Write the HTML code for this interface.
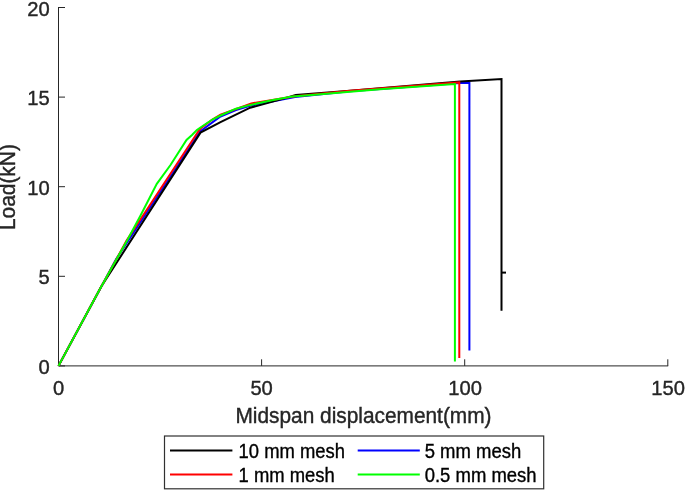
<!DOCTYPE html>
<html lang="en"><head><meta charset="utf-8"><title>Load vs midspan displacement</title>
<style>html,body{margin:0;padding:0;background:#fff}body{width:685px;height:491px;overflow:hidden}</style></head>
<body>
<svg width="685" height="491" viewBox="0 0 685 491" style="display:block;font-family:'Liberation Sans',Arial,Helvetica,sans-serif" fill="#262626">
<rect width="685" height="491" fill="#fff"/>
<g stroke="#262626" stroke-width="1" fill="none">
<path d="M58.5,7V365.9H668.2"/>
<path d="M58.5,365.9H65"/>
<path d="M58.5,276.3H65"/>
<path d="M58.5,186.7H65"/>
<path d="M58.5,97.1H65"/>
<path d="M58.5,7.5H65"/>
<path d="M58.5,365.9V359.3"/>
<path d="M261.6,365.9V359.3"/>
<path d="M464.7,365.9V359.3"/>
<path d="M667.8,365.9V359.3"/>
</g>
<g font-size="20.7" stroke="#262626" stroke-width="0.4">
<text transform="translate(49.8,373.8) scale(0.975,1)" text-anchor="end">0</text>
<text transform="translate(49.8,284.2) scale(0.975,1)" text-anchor="end">5</text>
<text transform="translate(49.8,194.6) scale(0.975,1)" text-anchor="end">10</text>
<text transform="translate(49.8,105.0) scale(0.975,1)" text-anchor="end">15</text>
<text transform="translate(49.8,15.9) scale(0.975,1)" text-anchor="end">20</text>
<text transform="translate(58.5,395.3) scale(0.975,1)" text-anchor="middle">0</text>
<text transform="translate(261.6,395.3) scale(0.975,1)" text-anchor="middle">50</text>
<text transform="translate(465.1,395.3) scale(0.975,1)" text-anchor="middle">100</text>
<text transform="translate(668.2,395.3) scale(0.975,1)" text-anchor="middle">150</text>
</g>
<text transform="translate(363.5,422.7) scale(0.966,1)" text-anchor="middle" font-size="21.6" stroke="#262626" stroke-width="0.4">Midspan displacement(mm)</text>
<text transform="translate(15.3,187.1) rotate(-90) scale(0.968,1)" text-anchor="middle" font-size="21.6" stroke="#262626" stroke-width="0.4">Load(kN)</text>
<polyline fill="none" stroke="#0000ff" stroke-width="2" stroke-linejoin="miter" points="58.5,365.9 116.2,259.0 200.1,131.4 220.5,116.5 236.0,110.0 250.0,105.8 295.0,97.0 350.0,91.2 460.0,83.0 469.4,83.0 469.4,350.5"/>
<polyline fill="none" stroke="#000" stroke-width="2" stroke-linejoin="miter" points="58.5,365.9 101.3,286.5 200.5,132.6 220.5,122.2 250.2,107.7 282.6,98.9 295.7,94.9 350.0,90.8 460.2,81.4 501.5,79.0 501.5,310.7"/>
<path d="M501.5,272.6H506" stroke="#000" stroke-width="2"/>
<polyline fill="none" stroke="#ff0000" stroke-width="2" stroke-linejoin="miter" points="58.5,365.9 99.4,290.0 116.0,260.0 126.6,240.5 198.5,131.0 201.5,127.6 212.4,119.5 220.5,114.7 251.3,103.4 295.0,96.2 350.0,90.7 459.3,82.4 459.3,358.1"/>
<polyline fill="none" stroke="#00ff00" stroke-width="2" stroke-linejoin="miter" points="58.5,365.9 99.4,290.0 116.1,260.0 127.4,240.0 140.8,215.0 156.8,183.8 170.5,165.0 186.5,140.0 192.0,135.0 196.9,130.1 200.1,127.7 212.4,119.5 220.5,115.5 236.0,108.7 250.3,104.9 271.8,100.3 292.2,96.5 306.0,95.5 350.0,91.8 380.0,89.2 454.9,84.0 454.9,361.5"/>
<rect x="164.5" y="436" width="379.2" height="52.8" fill="#fff" stroke="#303030" stroke-width="1.2"/>
<g stroke-width="2">
<path d="M170,450.6H232.4" stroke="#000"/>
<path d="M170,474.5H232.4" stroke="#ff0000"/>
<path d="M357.7,450.6H419.8" stroke="#0000ff"/>
<path d="M357.7,474.5H419.8" stroke="#00ff00"/>
</g>
<g font-size="19.3" fill="#000" stroke="#000" stroke-width="0.35">
<text transform="translate(238.6,457.8) scale(0.955,1)">10 mm mesh</text>
<text transform="translate(238.6,481.7) scale(0.955,1)">1 mm mesh</text>
<text transform="translate(424.7,457.8) scale(0.958,1)">5 mm mesh</text>
<text transform="translate(424.7,481.7) scale(0.958,1)">0.5 mm mesh</text>
</g>
</svg>
</body></html>
